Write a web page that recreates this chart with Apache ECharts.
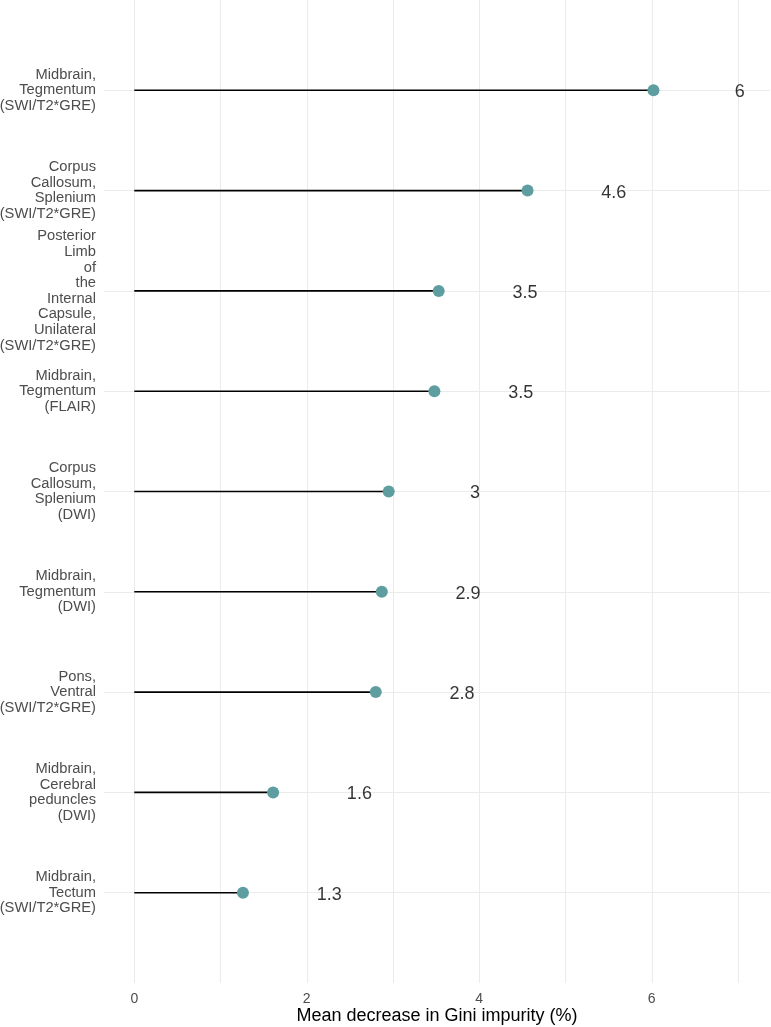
<!DOCTYPE html>
<html><head><meta charset="utf-8">
<script src="https://cdn.jsdelivr.net/npm/echarts@6/dist/echarts.min.js"></script>
<style>html,body{margin:0;padding:0;background:#fff}#c{width:771px;height:1027px}</style>
</head><body><div id="c"></div>
<script>
// categories bottom (1) to top (9)
const categories = [
  "Midbrain,\nTectum\n(SWI/T2*GRE)",
  "Midbrain,\nCerebral\npeduncles\n(DWI)",
  "Pons,\nVentral\n(SWI/T2*GRE)",
  "Midbrain,\nTegmentum\n(DWI)",
  "Corpus\nCallosum,\nSplenium\n(DWI)",
  "Midbrain,\nTegmentum\n(FLAIR)",
  "Posterior\nLimb\nof\nthe\nInternal\nCapsule,\nUnilateral\n(SWI/T2*GRE)",
  "Corpus\nCallosum,\nSplenium\n(SWI/T2*GRE)",
  "Midbrain,\nTegmentum\n(SWI/T2*GRE)"
];
const values = [1.26, 1.61, 2.80, 2.87, 2.95, 3.48, 3.53, 4.56, 6.02];
const valueLabels = ["1.3", "1.6", "2.8", "2.9", "3", "3.5", "3.5", "4.6", "6"];
const labelOffset = 1;
const xTicks = [0, 2, 4, 6];
const xGrid = [0, 1, 2, 3, 4, 5, 6, 7];
const yPos = categories.map((_, i) => i + 1);

const FONT = "Liberation Sans, Arial, sans-serif";
const chart = echarts.init(document.getElementById('c'), null, {renderer: 'canvas'});

const gridMarks = xGrid.map(v => ({xAxis: v})).concat(yPos.map(v => ({yAxis: v})));

chart.setOption({
  animation: false,
  backgroundColor: '#ffffff',
  grid: {left: 104, right: 1, top: 0, bottom: 44, containLabel: false, outerBoundsMode: 'none'},
  xAxis: {
    type: 'value', min: -0.351, max: 7.371,
    axisLine: {show: false}, axisTick: {show: false}, splitLine: {show: false},
    axisLabel: {customValues: xTicks, margin: 9, fontSize: 14, color: '#4d4d4d', fontFamily: FONT},
    name: 'Mean decrease in Gini impurity (%)', nameLocation: 'middle', nameGap: 24,
    nameMoveOverlap: false,
    nameTextStyle: {fontSize: 18, color: '#000', fontFamily: FONT}
  },
  yAxis: {
    type: 'value', min: 0.1, max: 9.9,
    axisLine: {show: false}, axisTick: {show: false}, splitLine: {show: false},
    axisLabel: {
      customValues: yPos, margin: 8, fontSize: 14.7, lineHeight: 15.6, color: '#4d4d4d',
      fontFamily: FONT, align: 'right',
      formatter: v => categories[Math.round(v) - 1]
    }
  },
  series: [
    {
      type: 'scatter', data: [], z: 0, silent: true,
      markLine: {
        silent: true, symbol: 'none', animation: false, z: 0,
        label: {show: false},
        lineStyle: {color: '#ebebeb', width: 1, type: 'solid'},
        emphasis: {disabled: true},
        data: gridMarks
      }
    },
    {
      type: 'custom', z: 2, silent: true,
      data: values.map((v, i) => [v, yPos[i]]),
      renderItem: (params, api) => {
        const p0 = api.coord([0, api.value(1)]);
        const p1 = api.coord([api.value(0), api.value(1)]);
        return {type: 'line', shape: {x1: p0[0], y1: p0[1], x2: p1[0], y2: p1[1]},
                style: {stroke: '#000', lineWidth: 1.6}};
      }
    },
    {
      type: 'scatter', z: 3, silent: true, symbolSize: 12,
      itemStyle: {color: '#5F9EA0', opacity: 1},
      data: values.map((v, i) => [v, yPos[i]])
    },
    {
      type: 'scatter', z: 3, silent: true, symbolSize: 0,
      data: values.map((v, i) => ({value: [v + labelOffset, yPos[i]], label: {formatter: valueLabels[i]}})),
      label: {show: true, position: 'inside', offset: [0, 2], fontSize: 18, color: '#000', fontFamily: FONT}
    }
  ]
});
</script>
</body></html>
